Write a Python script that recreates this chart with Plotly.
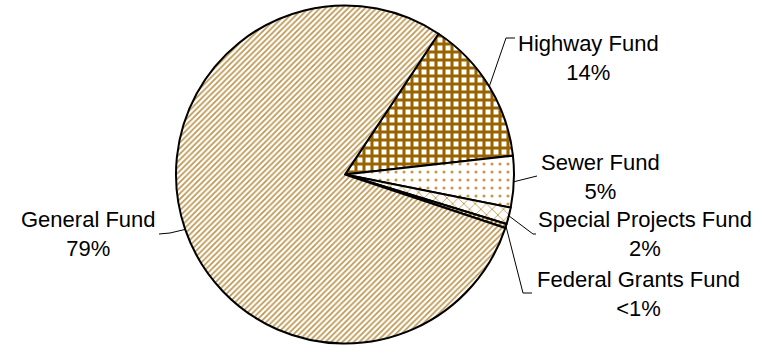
import math
import plotly.graph_objects as go

# Fund shares of the total (percent)
funds = ["Highway Fund", "Sewer Fund", "Special Projects Fund", "Federal Grants Fund", "General Fund"]
shares = [13.9, 4.9, 1.6, 0.4, 79.2]
share_text = ["14%", "5%", "2%", "<1%", "79%"]

W, H = 768, 346
CX, CY, R = 345.0, 174.5, 169.0   # pie centre and radius in pixels
START = 33.6                        # first slice starts here, clockwise from 12 o'clock

patterns = [
    dict(shape="+", fgcolor="#996300", bgcolor="white", size=8, solidity=0.62),
    dict(shape=".", fgcolor="#C49A45", bgcolor="white", size=8, solidity=0.12),
    dict(shape="x", fgcolor="#C09640", bgcolor="white", size=8, solidity=0.2),
    dict(shape="/", fgcolor="#8A6010", bgcolor="white", size=4, solidity=0.5),
    dict(shape="/", fgcolor="#BC9650", bgcolor="white", size=4, solidity=0.42),
]

fig = go.Figure(go.Pie(
    labels=funds,
    values=shares,
    sort=False,
    direction="clockwise",
    rotation=START,
    textinfo="none",
    hoverinfo="label+percent",
    showlegend=False,
    marker=dict(
        colors=["white"] * len(funds),
        line=dict(color="black", width=2),
        pattern=dict(
            shape=[p["shape"] for p in patterns],
            fgcolor=[p["fgcolor"] for p in patterns],
            bgcolor=[p["bgcolor"] for p in patterns],
            size=[p["size"] for p in patterns],
            solidity=[p["solidity"] for p in patterns],
            fillmode="replace",
        ),
    ),
    domain=dict(x=[(CX - R) / W, (CX + R) / W], y=[(H - CY - R) / H, (H - CY + R) / H]),
))


def px(x, y):
    return x / W, 1 - y / H


# Leader-line routing: (elbow point, end point, label centre) relative to each slice
leaders = {
    "Highway Fund": ((506, 38), (515, 38), (588, 58)),
    "Sewer Fund": ((537, 176), (537, 176), (600, 177)),
    "Special Projects Fund": ((533, 234), (536, 234), (645, 234)),
    "Federal Grants Fund": ((523, 293), (532, 293), (638, 294)),
    "General Fund": ((170, 233), (159, 234), (88, 234)),
}

total = sum(shares)
angle = START
shapes, annotations = [], []
for name, val, txt in zip(funds, shares, share_text):
    span = 360 * val / total
    mid = math.radians(angle + span / 2)
    angle += span
    sx, sy = CX + R * math.sin(mid), CY - R * math.cos(mid)
    (ex, ey), (tx, ty), (lx, ly) = leaders[name]
    x0, y0 = px(sx, sy)
    x1, y1 = px(ex, ey)
    x2, y2 = px(tx, ty)
    shapes.append(dict(type="path", xref="paper", yref="paper",
                       path=f"M{x0},{y0} L{x1},{y1} L{x2},{y2}",
                       line=dict(color="black", width=1)))
    ax, ay = px(lx, ly)
    annotations.append(dict(x=ax, y=ay, xref="paper", yref="paper",
                            text=f"{name}<br>{txt}", showarrow=False,
                            align="center", xanchor="center", yanchor="middle",
                            font=dict(family="Liberation Sans, Arial, sans-serif",
                                      size=22, color="black")))

fig.update_layout(
    width=W, height=H,
    margin=dict(l=0, r=0, t=0, b=0),
    paper_bgcolor="white",
    plot_bgcolor="white",
    shapes=shapes,
    annotations=annotations,
)

fig.write_html("out.html")
